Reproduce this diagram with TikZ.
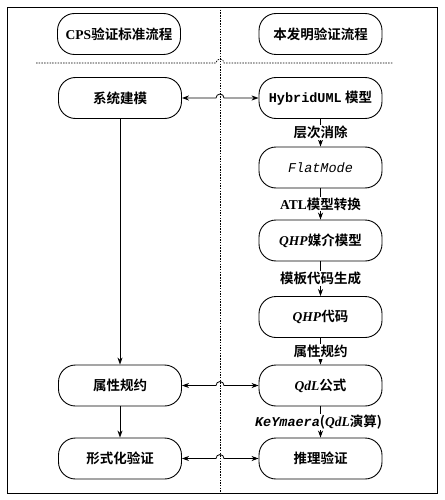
\documentclass[tikz,border=0pt]{standalone}
\usepackage{fontspec}
\setmainfont{Liberation Serif}
\newfontfamily\cjkf{Noto Sans CJK SC}[BoldFont={Noto Sans CJK SC Bold}]
\newfontfamily\monof{Liberation Mono}
\usetikzlibrary{arrows.meta}
\newcommand{\zhb}[1]{{\cjkf\bfseries #1}}
\newcommand{\mnb}[1]{{\monof #1}}
\tikzset{
  box/.style={draw, line width=0.9pt, rounded corners=17pt, minimum width=123pt,
    minimum height=41pt, inner sep=0pt, fill=white, font=\fontsize{13.5}{15}\selectfont},
  lbl/.style={fill=white, inner sep=1pt, font=\fontsize{13.5}{15}\selectfont},
  arr/.style={line width=0.8pt, -{Stealth[length=7pt,width=5pt]}},
  darr/.style={line width=0.8pt, {Stealth[length=7pt,width=5pt]}-{Stealth[length=7pt,width=5pt]}},
  sep/.style={line width=0.7pt, dash pattern=on 1.5pt off 1.2pt}
}
\begin{document}
\begin{tikzpicture}[x=1pt,y=-1pt]
\useasboundingbox (0,0) rectangle (444,500);
\draw[line width=0.9pt] (7,7) rectangle (437,493);
% separators
\coordinate (vt) at (220,7);
\coordinate (vb) at (220,493);
\draw[sep] (vt) -- (vb);
\coordinate (hl) at (36,63);
\coordinate (hr) at (393,63);
\draw[sep] (hl) -- (216,63) arc[start angle=180,end angle=0,radius=4pt] -- (hr);
% header
\node[box] (h1) at (119,34) {\textbf{CPS}\zhb{验证标准流程}};
\node[box] (h2) at (320.5,34) {\zhb{本发明验证流程}};
% left
\node[box] (l1) at (120,98) {\zhb{系统建模}};
\node[box] (l2) at (120,385.5) {\zhb{属性规约}};
\node[box] (l3) at (120,458.5) {\zhb{形式化验证}};
% right
\node[box] (r1) at (320.5,98) {\mnb{\bfseries HybridUML} \zhb{模型}};
\node[box] (r2) at (320.5,167.5) {\mnb{\itshape FlatMode}};
\node[box] (r3) at (320.5,240.5) {\textbf{\itshape QHP}\zhb{媒介模型}};
\node[box] (r4) at (320.5,317) {\textbf{\itshape QHP}\zhb{代码}};
\node[box] (r5) at (320.5,385.5) {\textbf{\itshape QdL}\zhb{公式}};
\node[box] (r6) at (320.5,458.5) {\zhb{推理验证}};
% left arrows
\draw[arr] (l1) -- (l2);
\draw[arr] (l2) -- (l3);
% right arrows
\draw[arr] (r1) -- node[lbl]{\zhb{层次消除}} (r2);
\draw[arr] (r2) -- node[lbl]{\textbf{ATL}\zhb{模型转换}} (r3);
\draw[arr] (r3) -- node[lbl]{\zhb{模板代码生成}} (r4);
\draw[arr] (r4) -- node[lbl]{\zhb{属性规约}} (r5);
\draw[arr] (r5) -- node[lbl,xshift=-2pt]{\mnb{\bfseries\itshape KeYmaera}\zhb{(}\textbf{\itshape QdL}\zhb{演算)}} (r6);
% cross arrows with hops
\draw[darr] (l1.east) -- (216,98) arc[start angle=180,end angle=0,radius=4pt] -- (r1.west);
\draw[darr] (l2.east) -- (216,385.5) arc[start angle=180,end angle=0,radius=4pt] -- (r5.west);
\draw[darr] (l3.east) -- (216,458.5) arc[start angle=180,end angle=0,radius=4pt] -- (r6.west);
\end{tikzpicture}
\end{document}
